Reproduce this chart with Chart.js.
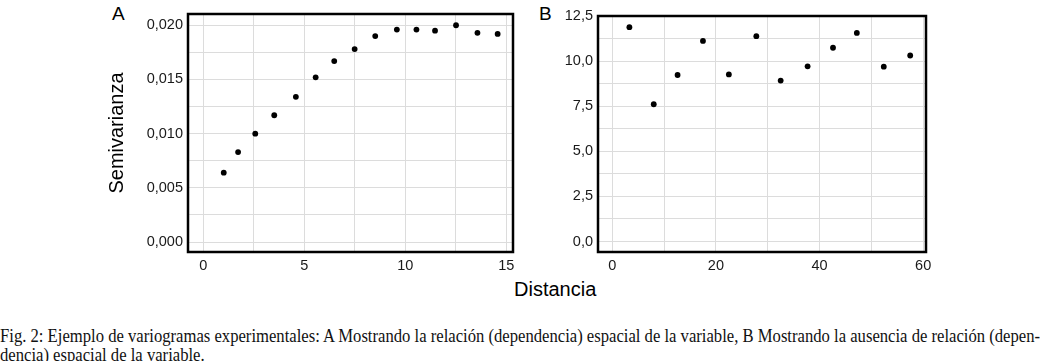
<!DOCTYPE html>
<html>
<head>
<meta charset="utf-8">
<script src="https://cdn.jsdelivr.net/npm/chart.js@4/dist/chart.umd.min.js"></script>
<style>
  body { margin: 0; background: #fff; width: 1040px; height: 361px; overflow: hidden; position: relative; }
  canvas { position: absolute; }
  .lbl { position: absolute; font-family: "Liberation Sans", Arial, sans-serif; color: #000; line-height: 1; }
  .cap { position: absolute; left: 0; font-family: "Liberation Serif", "Times New Roman", serif; font-size: 18px; line-height: 20px; white-space: nowrap; transform-origin: 0 0; color: #111; }
</style>
</head>
<body>
<div class="lbl" style="left:112px; top:4px; font-size:19px;">A</div>
<div class="lbl" style="left:539px; top:4px; font-size:19px;">B</div>
<div class="lbl" id="xtitle" style="left:0; top:279px; font-size:20px;">Distancia</div>
<canvas id="chartA" width="420" height="275" style="left:100px; top:0;"></canvas>
<canvas id="chartB" width="400" height="275" style="left:540px; top:0;"></canvas>
<div class="cap" id="cap1" style="top:326px;">Fig. 2: Ejemplo de variogramas experimentales: A Mostrando la relación (dependencia) espacial de la variable, B Mostrando la ausencia de relación (depen-</div>
<div class="cap" id="cap2" style="top:345px;">dencia) espacial de la variable.</div>
<script>
// Panel A: variograma con dependencia espacial
const lagA = [1.01, 1.72, 2.57, 3.51, 4.58, 5.56, 6.48, 7.49, 8.51, 9.58, 10.55, 11.47, 12.51, 13.57, 14.57];
const gammaA = [0.0064, 0.0083, 0.0100, 0.0117, 0.0134, 0.0152, 0.0167, 0.0178, 0.0190, 0.0196, 0.0196, 0.0195, 0.0200, 0.0193, 0.0192];
// Panel B: sin dependencia espacial
const lagB = [3.3, 8.0, 12.6, 17.5, 22.5, 27.8, 32.5, 37.7, 42.6, 47.2, 52.4, 57.5];
const gammaB = [11.88, 7.61, 9.23, 11.12, 9.26, 11.38, 8.92, 9.71, 10.74, 11.56, 9.69, 10.31];

// grid positions and which of them carry a label
const gridAx = [0, 2.5, 5, 7.5, 10, 12.5, 15];
const labelsAx = [0, 5, 10, 15];
const gridAy = [0, 0.0025, 0.005, 0.0075, 0.01, 0.0125, 0.015, 0.0175, 0.02];
const labelsAy = [0, 0.005, 0.01, 0.015, 0.02];
const gridBx = [0, 10, 20, 30, 40, 50, 60];
const labelsBx = [0, 20, 40, 60];
const gridBy = [0, 1.25, 2.5, 3.75, 5, 6.25, 7.5, 8.75, 10, 11.25, 12.5];
const labelsBy = [0, 2.5, 5, 7.5, 10, 12.5];

const tickFont = { family: '"Liberation Sans", Arial, sans-serif', size: 14.5 };
const gridColor = '#dcdcdc';

const boxBorder = {
    id: 'boxBorder',
    afterDraw(chart) {
        const a = chart.chartArea, ctx = chart.ctx;
        ctx.save();
        ctx.strokeStyle = '#000';
        ctx.lineWidth = 2.5;
        ctx.strokeRect(a.left, a.top, a.right - a.left, a.bottom - a.top);
        ctx.restore();
    }
};

function isIn(list, v) {
    return list.some(l => Math.abs(l - v) < 1e-9);
}

function axis(grid, labels, min, max, fmt, fit) {
    return {
        type: 'linear',
        min: min,
        max: max,
        afterBuildTicks: s => { s.ticks = grid.map(v => ({ value: v })); },
        afterFit: fit,
        grid: { color: gridColor, lineWidth: 1, drawTicks: false },
        border: { display: false },
        ticks: {
            font: tickFont,
            color: '#1a1a1a',
            padding: 5,
            autoSkip: false,
            maxRotation: 0,
            callback: v => isIn(labels, v) ? fmt(v) : ''
        }
    };
}

function makeChart(id, xs, ys, opts) {
    const pts = xs.map((x, i) => ({ x: x, y: ys[i] }));
    return new Chart(document.getElementById(id), {
        type: 'scatter',
        data: { datasets: [{
            data: pts,
            backgroundColor: '#000',
            borderColor: '#000',
            pointRadius: 2.9,
            borderWidth: 0
        }]},
        options: {
            responsive: false,
            animation: false,
            layout: { padding: opts.padding },
            plugins: { legend: { display: false }, tooltip: { enabled: false } },
            scales: { x: opts.x, y: opts.y }
        },
        plugins: [boxBorder]
    });
}

const yA = axis(gridAy, labelsAy, -0.00092, 0.02104, v => v.toFixed(3).replace('.', ','), s => { s.width = 88; });
yA.title = { display: true, text: 'Semivarianza', color: '#000',
    font: { family: '"Liberation Sans", Arial, sans-serif', size: 20 }, padding: { top: 5, bottom: 0 } };

makeChart('chartA', lagA, gammaA, {
    padding: { top: 14, right: 7, left: 0, bottom: 0 },
    x: axis(gridAx, labelsAx, -0.76, 15.33, v => String(v), s => { s.height = 23; }),
    y: yA
});

makeChart('chartB', lagB, gammaB, {
    padding: { top: 16, right: 14, left: 0, bottom: 0 },
    x: axis(gridBx, labelsBx, -2.76, 60.55, v => String(v), s => { s.height = 23; }),
    y: axis(gridBy, labelsBy, -0.58, 12.5, v => v.toFixed(1).replace('.', ','), s => { s.width = 58; })
});

// x title centred between both panels
const xt = document.getElementById('xtitle');
xt.style.left = (555 - xt.offsetWidth / 2) + 'px';

// stretch caption line 1 across the full width, same factor for line 2
const c1 = document.getElementById('cap1'), c2 = document.getElementById('cap2');
const k = 1040 / c1.scrollWidth;
c1.style.transform = 'scaleX(' + k + ')';
c2.style.transform = 'scaleX(' + k + ')';
</script>
</body>
</html>
